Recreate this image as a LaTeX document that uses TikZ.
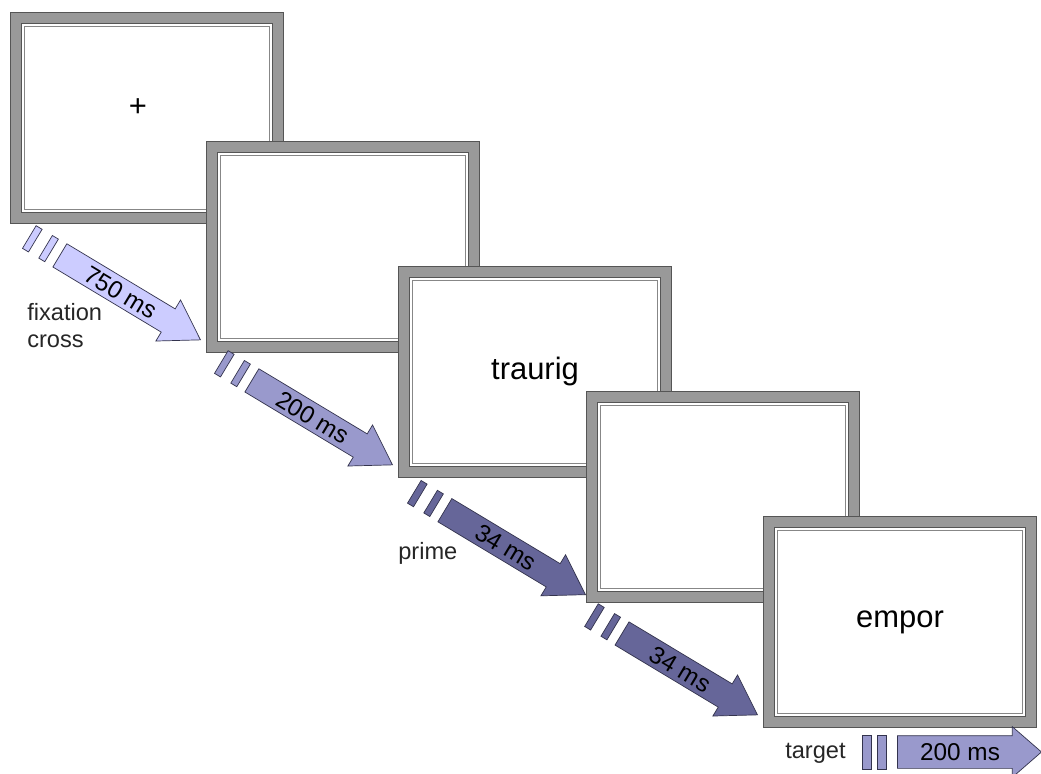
\documentclass[tikz,border=0pt]{standalone}
\usepackage{fontspec}
\setmainfont{Liberation Sans}
\usetikzlibrary{shapes.arrows, positioning, calc}

\definecolor{framegray}{RGB}{153,153,153}
\definecolor{framedark}{RGB}{85,85,85}
\definecolor{innerline}{RGB}{135,135,135}
\definecolor{lavlight}{RGB}{204,204,255}
\definecolor{lavmid}{RGB}{153,153,204}
\definecolor{lavdark}{RGB}{102,102,153}
\definecolor{edgeline}{RGB}{51,51,77}

\tikzstyle{screen} = [rectangle, minimum width=6.55cm, minimum height=5cm, fill=white, draw=framedark, line width=0.025cm, double=framegray, double distance=0.25cm, outer sep=0.15cm, font=\fontsize{22}{26}\selectfont, path picture={\draw[innerline, line width=0.3pt] ([shift={(0.21,-0.21)}]path picture bounding box.north west) rectangle ([shift={(-0.21,0.21)}]path picture bounding box.south east);}]
\tikzstyle{timearrow} = [single arrow, draw=edgeline, line width=0.5pt, anchor=tip, minimum height=4.1cm, single arrow head extend=0.26cm, single arrow tip angle=65, inner xsep=0.1cm, inner ysep=0.11cm, text height=0.44cm, text depth=0cm, font=\fontsize{17.3}{20}\selectfont]
\tikzstyle{gapbar} = [rectangle, draw=edgeline, line width=0.5pt, minimum width=0.175cm, minimum height=0.66cm, inner sep=0pt]
\tikzstyle{slant} = [rotate=-31]
\tikzstyle{phase} = [font=\fontsize{16.8}{19.9}\selectfont, text=black!85, inner sep=0pt, align=left, anchor=base west]

\begin{document}
\begin{tikzpicture}[node distance=3.125cm and 4.8cm, on grid]
    \useasboundingbox (0,0) rectangle (26.025,-19.35);
    % Screens, top left to bottom right
    \node[screen] (fix) at (3.675,-2.95) {};
    \node[screen, below right=3.225cm and 4.9cm of fix] (blank1) {};
    \node[screen, below right=of blank1] (prime) {traurig};
    \node[screen, below right=3.125cm and 4.7cm of prime] (blank2) {};
    \node[screen, below right=3.125cm and 4.425cm of blank2] (target) {empor};
    \node[font=\fontsize{22}{26}\selectfont, inner sep=0pt] (cross) at ([shift={(-0.225,0.25)}]fix.center) {+};

    % Timing arrows with their two gap bars
    \node[timearrow, slant, fill=lavlight] (t1) at ([shift={(-0.125,0.32)}]blank1.south west) {750 ms};
    \node[gapbar, slant, fill=lavlight] (g1b) at ($(t1.tail)+(149:0.32)$) {};
    \node[gapbar, slant, fill=lavlight] (g1a) at ($(g1b)+(149:0.475)$) {};

    \node[timearrow, slant, fill=lavmid] (t2) at ([shift={(-0.125,0.32)}]prime.south west) {200 ms};
    \node[gapbar, slant, fill=lavmid] (g2b) at ($(t2.tail)+(149:0.32)$) {};
    \node[gapbar, slant, fill=lavmid] (g2a) at ($(g2b)+(149:0.475)$) {};

    \node[timearrow, slant, fill=lavdark] (t3) at ([shift={(0,0.2)}]blank2.south west) {34 ms};
    \node[gapbar, slant, fill=lavdark] (g3b) at ($(t3.tail)+(149:0.32)$) {};
    \node[gapbar, slant, fill=lavdark] (g3a) at ($(g3b)+(149:0.475)$) {};

    \node[timearrow, slant, fill=lavdark, minimum height=3.95cm] (t4) at ([shift={(-0.125,0.32)}]target.south west) {34 ms};
    \node[gapbar, slant, fill=lavdark] (g4b) at ($(t4.tail)+(149:0.32)$) {};
    \node[gapbar, slant, fill=lavdark] (g4a) at ($(g4b)+(149:0.475)$) {};

    % Last arrow runs flat
    \node[timearrow, fill=lavmid, minimum height=3.6cm, single arrow head extend=0.225cm, single arrow tip angle=82, inner ysep=0.18cm] (t5) at ([shift={(0.125,-0.6)}]target.south east) {200 ms};
    \node[gapbar, fill=lavmid, minimum width=0.225cm, minimum height=0.85cm] (g5b) at ($(t5.tail)+(-0.375,0)$) {};
    \node[gapbar, fill=lavmid, minimum width=0.225cm, minimum height=0.85cm] (g5a) at ($(g5b)+(-0.39,0)$) {};

    % Phase labels
    \node[phase] (lfix) at (0.675,-8.7) {fixation\\cross};
    \node[phase] (lprime) at (9.95,-14.0) {prime};
    \node[phase] (ltarget) at (19.625,-18.95) {target};
\end{tikzpicture}
\end{document}
